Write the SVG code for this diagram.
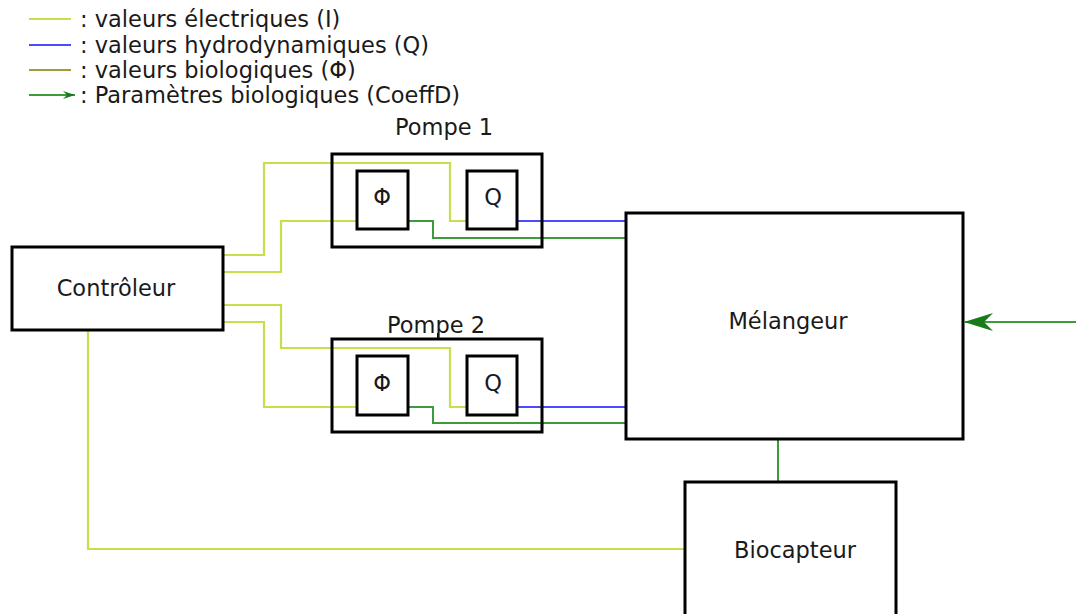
<svg xmlns="http://www.w3.org/2000/svg" width="1076" height="614" viewBox="0 0 1076 614">
<style>
text{font-family:"DejaVu Sans","Liberation Sans",sans-serif;font-size:22.5px;fill:#1a1a1a}
.c{text-anchor:middle}
.box{fill:#fff;stroke:#000;stroke-width:3}
.el{fill:none;stroke:#c4e04c;stroke-width:2.2}
.hy{fill:none;stroke:#4a4aff;stroke-width:2}
.bi{fill:none;stroke:#3c9c3c;stroke-width:2}
.ol{fill:none;stroke:#a09a3a;stroke-width:2}
</style>
<defs>
<marker id="arr" viewBox="0 0 29 18" refX="29" refY="9" markerWidth="29" markerHeight="18" markerUnits="userSpaceOnUse" orient="auto">
<path d="M0,0 L29,9 L0,18 L9,9 Z" fill="#1a7a1a"/>
</marker>
<marker id="arrs" viewBox="0 0 12 8" refX="12" refY="4" markerWidth="12" markerHeight="8" markerUnits="userSpaceOnUse" orient="auto">
<path d="M0,0 L12,4 L0,8 L4,4 Z" fill="#1a7a1a"/>
</marker>
</defs>
<g id="legend">
<line x1="29" y1="19" x2="71" y2="19" class="el"/>
<line x1="29" y1="45" x2="71" y2="45" class="hy"/>
<line x1="29" y1="70" x2="71" y2="70" class="ol"/>
<line x1="29" y1="95" x2="75" y2="95" class="bi" marker-end="url(#arrs)"/>
<text x="80" y="27">: valeurs électriques (I)</text>
<text x="80" y="53">: valeurs hydrodynamiques (Q)</text>
<text x="80" y="78">: valeurs biologiques (Φ)</text>
<text x="80" y="103">: Paramètres biologiques (CoeffD)</text>
</g>
<g id="connectors">
<polyline class="el" points="223,255 264,255 264,163 450,163 450,221 467,221"/>
<polyline class="el" points="223,272 281,272 281,221 357,221"/>
<polyline class="el" points="223,305 281,305 281,348 450,348 450,407 467,407"/>
<polyline class="el" points="223,322 264,322 264,407 357,407"/>
<polyline class="el" points="88,330 88,549 685,549"/>
<polyline class="bi" points="408,221 433,221 433,238 626,238"/>
<polyline class="bi" points="408,407 433,407 433,423 626,423"/>
<line class="hy" x1="517" y1="221" x2="626" y2="221"/>
<line class="hy" x1="517" y1="407" x2="626" y2="407"/>
<line class="bi" x1="778" y1="439" x2="778" y2="482"/>
<line x1="438" y1="333" x2="438" y2="339" stroke="#000" stroke-width="2"/>
</g>
<g id="controleur">
<rect class="box" x="12" y="247" width="211" height="83"/>
<text class="c" x="116" y="296">Contrôleur</text>
</g>
<g id="pompe1">
<rect x="332" y="154" width="210" height="93" fill="none" stroke="#000" stroke-width="3"/>
<text class="c" x="444" y="135">Pompe 1</text>
</g>
<g id="phi1">
<rect class="box" x="357" y="171" width="51" height="58"/>
<text class="c" x="382" y="205">Φ</text>
</g>
<g id="q1">
<rect class="box" x="467" y="171" width="50" height="58"/>
<text class="c" x="493" y="205">Q</text>
</g>
<g id="pompe2">
<rect x="332" y="339" width="210" height="93" fill="none" stroke="#000" stroke-width="3"/>
<text class="c" x="436" y="333">Pompe 2</text>
</g>
<g id="phi2">
<rect class="box" x="357" y="356" width="51" height="59"/>
<text class="c" x="382" y="391">Φ</text>
</g>
<g id="q2">
<rect class="box" x="467" y="356" width="50" height="59"/>
<text class="c" x="493" y="391">Q</text>
</g>
<g id="melangeur">
<rect class="box" x="626" y="213" width="337" height="226"/>
<text class="c" x="788" y="329">Mélangeur</text>
</g>
<g id="biocapteur">
<rect class="box" x="685" y="482" width="211" height="140"/>
<text class="c" x="795" y="558">Biocapteur</text>
</g>
<g id="input-arrow">
<line class="bi" x1="1076" y1="322" x2="964" y2="322" marker-end="url(#arr)"/>
</g>
</svg>
